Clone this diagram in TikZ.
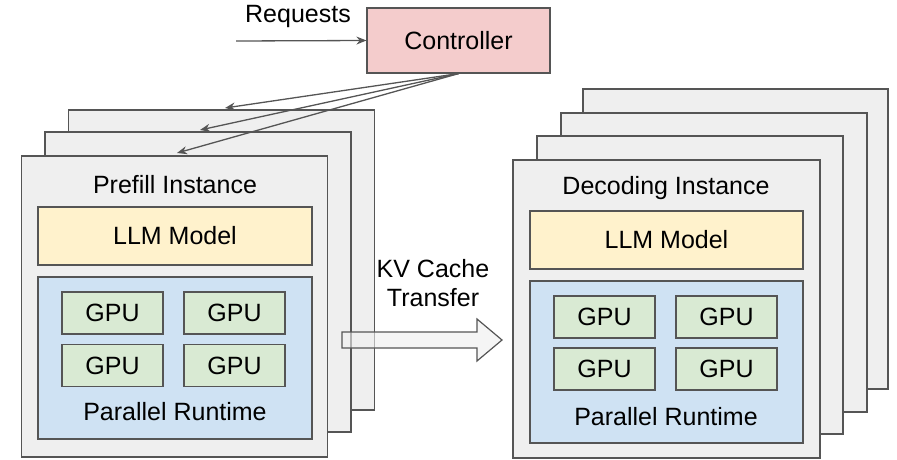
\documentclass[tikz,border=0pt]{standalone}
\usepackage{fontspec}
\setmainfont{Liberation Sans}
\usetikzlibrary{arrows.meta}
\definecolor{edgegray}{HTML}{555555}
\definecolor{instfill}{HTML}{EFEFEF}
\definecolor{ctrlfill}{HTML}{F4CCCC}
\definecolor{llmfill}{HTML}{FFF2CC}
\definecolor{rtfill}{HTML}{CFE2F3}
\definecolor{gpufill}{HTML}{D9EAD3}
\tikzset{
    box/.style={draw=edgegray, line width=1.2pt, rectangle, inner sep=0pt},
    inst/.style={box, fill=instfill, minimum width=306pt, minimum height=300pt},
    gpu/.style={box, fill=gpufill, minimum width=101pt, minimum height=42pt, font=\fontsize{25}{29}\selectfont},
    lbl/.style={font=\fontsize{25}{29}\selectfont},
    thin/.style={draw=edgegray, line width=1.3pt, -{Stealth[length=10pt,width=8pt]}}
}
\begin{document}
\begin{tikzpicture}[x=1pt, y=-1pt]
        \useasboundingbox (0,0) rectangle (897,460);
        % controller
        \node[box, fill=ctrlfill, minimum width=183pt, minimum height=65pt, lbl] (ctrl) at (458.5,40.5) {Controller};
        \node[lbl] (req) at (298,16) {Requests};
        \coordinate (in) at (236,41);
        \path[thin] (in) -- (ctrl.west);

        % prefill instances
        \node[inst] (p1) at (221.5,260) {};
        \node[inst] (p2) at (198,282) {};
        \node[inst, minimum height=301pt] (p3) at (174.5,306.5) {};
        \node[lbl] (ptitle) at (175,185) {Prefill Instance};
        \node[box, fill=llmfill, minimum width=274pt, minimum height=58pt, lbl] (pllm) at (175,236) {LLM Model};
        \node[box, fill=rtfill, minimum width=274pt, minimum height=162pt] (prt) at (175,358) {};
        \node[gpu] (pg1) at (112.5,313) {GPU};
        \node[gpu] (pg2) at (234.5,313) {GPU};
        \node[gpu] (pg3) at (112.5,365.5) {GPU};
        \node[gpu] (pg4) at (234.5,365.5) {GPU};
        \node[lbl] (prun) at (175,412) {Parallel Runtime};

        \coordinate (t1) at (225,108);
        \coordinate (t2) at (200,130);
        \coordinate (t3) at (177,153);
        \path[thin] (ctrl.south) -- (t1);
        \path[thin] (ctrl.south) -- (t2);
        \path[thin] (ctrl.south) -- (t3);

        % decoding instances
        \node[inst, minimum width=305pt] (d1) at (735.5,239) {};
        \node[inst, minimum height=299pt] (d2) at (714,262.5) {};
        \node[inst, minimum height=298pt] (d3) at (690,285) {};
        \node[inst, minimum width=307pt, minimum height=298pt] (d4) at (666.5,309) {};
        \node[lbl] (dtitle) at (666,188) {Decoding Instance};
        \node[box, fill=llmfill, minimum width=273pt, minimum height=58pt, lbl] (dllm) at (666.5,240) {LLM Model};
        \node[box, fill=rtfill, minimum width=273pt, minimum height=162pt] (drt) at (666.5,362) {};
        \node[gpu] (dg1) at (604.5,317) {GPU};
        \node[gpu] (dg2) at (726.5,317) {GPU};
        \node[gpu] (dg3) at (604.5,369) {GPU};
        \node[gpu] (dg4) at (726.5,369) {GPU};
        \node[lbl] (drun) at (666,417) {Parallel Runtime};

        % kv cache transfer
        \node[lbl, align=center] (kv) at (433,283) {KV Cache\\Transfer};
        \path[draw=edgegray, line width=1.2pt, fill=instfill, fill opacity=0.6]
            (342,332) -- (477,332) -- (477,319) -- (502,340) -- (477,361) -- (477,348) -- (342,348) -- cycle;
    \end{tikzpicture}
\end{document}
